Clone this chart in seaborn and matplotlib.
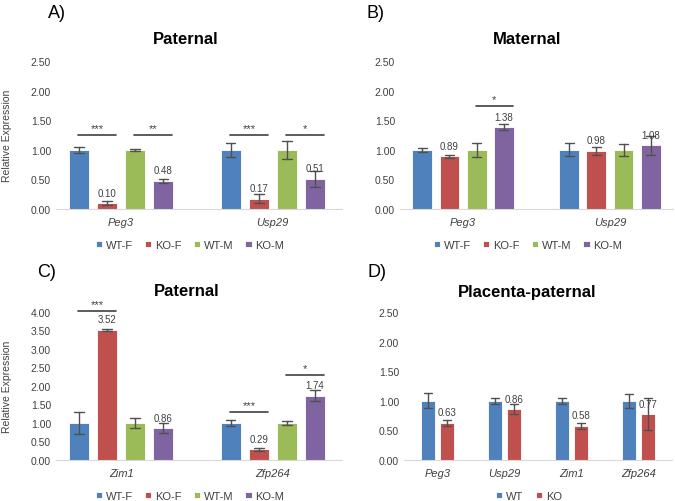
import matplotlib
matplotlib.use("Agg")
import numpy as np
import pandas as pd
import seaborn as sns
import matplotlib.pyplot as plt
from matplotlib.lines import Line2D
from matplotlib.ticker import FormatStrFormatter

# groups and colours (Excel 2010 default palette)
sex_groups = ["WT-F", "KO-F", "WT-M", "KO-M"]
sex_colors = ["#4F81BD", "#C0504D", "#9BBB59", "#8064A2"]
placenta_groups = ["WT", "KO"]
placenta_colors = ["#4F81BD", "#C0504D"]

# A) paternal
genes_a = ["Peg3", "Usp29"]
means_a = [[1.00, 0.10, 1.00, 0.48], [1.00, 0.17, 1.00, 0.51]]
errs_a = [[0.05, 0.035, 0.02, 0.035], [0.12, 0.075, 0.15, 0.14]]
sig_a = [(0, 0, 1, 1.25, "***"), (0, 2, 3, 1.25, "**"),
         (1, 0, 1, 1.25, "***"), (1, 2, 3, 1.25, "*")]

# B) maternal
genes_b = ["Peg3", "Usp29"]
means_b = [[1.00, 0.89, 1.00, 1.38], [1.00, 0.98, 1.00, 1.08]]
errs_b = [[0.03, 0.03, 0.12, 0.05], [0.11, 0.07, 0.10, 0.16]]
sig_b = [(0, 2, 3, 1.74, "*")]

# C) paternal
genes_c = ["Zim1", "Zfp264"]
means_c = [[1.00, 3.52, 1.00, 0.86], [1.00, 0.29, 1.00, 1.74]]
errs_c = [[0.30, 0.03, 0.14, 0.14], [0.07, 0.04, 0.06, 0.14]]
sig_c = [(0, 0, 1, 4.03, "***"), (1, 0, 1, 1.30, "***"), (1, 2, 3, 2.30, "*")]

# D) placenta-paternal
genes_d = ["Peg3", "Usp29", "Zim1", "Zfp264"]
means_d = [[1.00, 0.63], [1.00, 0.86], [1.00, 0.58], [1.00, 0.77]]
errs_d = [[0.13, 0.05], [0.05, 0.08], [0.05, 0.05], [0.12, 0.27]]

W, H = 675, 502
TXT = "#404040"

sns.set_style("white")
plt.rcParams["font.family"] = ["Liberation Sans", "DejaVu Sans"]


def long_table(genes, groups, means, errs):
    # three rows per bar so that mean = value and min/max = +/- error
    rows = []
    for g, m_row, e_row in zip(genes, means, errs):
        for grp, m, e in zip(groups, m_row, e_row):
            for v in (m - e, m, m + e):
                rows.append({"gene": g, "group": grp, "value": v})
    return pd.DataFrame(rows)


def px_axes(fig, x0, x1, ytop, ybot):
    return fig.add_axes([x0 / W, 1 - ybot / H, (x1 - x0) / W, (ybot - ytop) / H])


def draw_panel(ax, genes, groups, means, errs, colors, ymax, width,
               labelled, sigs, legend_xy):
    df = long_table(genes, groups, means, errs)
    sns.barplot(data=df, x="gene", y="value", hue="group", order=genes,
                hue_order=groups, palette=colors, estimator="mean",
                errorbar=lambda v: (v.min(), v.max()), width=width, gap=0.27,
                capsize=0.25, err_kws={"color": "#505050", "linewidth": 1},
                edgecolor="white", linewidth=0.6, saturation=1, ax=ax)
    ax.set_ylim(0, ymax)
    ax.set_yticks(np.arange(0, ymax + 0.01, 0.5))
    ax.yaxis.set_major_formatter(FormatStrFormatter("%.2f"))
    ax.set_xlabel("")
    ax.set_ylabel("")
    for side in ["top", "right", "left"]:
        ax.spines[side].set_visible(False)
    ax.spines["bottom"].set_color("#d9d9d9")
    ax.tick_params(axis="both", length=0, labelsize=7.5, colors=TXT)
    ax.tick_params(axis="x", pad=6)
    for t in ax.get_xticklabels():
        t.set_fontstyle("italic")
        t.set_fontsize(8)

    for i in labelled:
        ax.bar_label(ax.containers[i], fmt="%.2f", padding=4, fontsize=7, color=TXT)

    for gi, h0, h1, y, stars in sigs:
        p0 = ax.containers[h0][gi]
        p1 = ax.containers[h1][gi]
        x0 = p0.get_x() + p0.get_width() * 0.45
        x1 = p1.get_x() + p1.get_width() * 0.95
        ax.plot([x0, x1], [y, y], color=TXT, lw=1.2, clip_on=False)
        ax.text((x0 + x1) / 2, y + ymax * 0.012, stars, ha="center", va="bottom",
                fontsize=8, color=TXT, clip_on=False)

    handles, labels = ax.get_legend_handles_labels()
    ax.legend(handles, labels, loc="center", ncol=len(groups), frameon=False,
              bbox_to_anchor=(legend_xy[0] / W, 1 - legend_xy[1] / H),
              bbox_transform=ax.figure.transFigure, fontsize=8,
              handlelength=0.55, handleheight=0.55, handletextpad=0.35,
              columnspacing=1.1, labelcolor=TXT)


fig = plt.figure(figsize=(W / 100, H / 100), dpi=100)

ax_a = px_axes(fig, 56, 338, 62, 210)
draw_panel(ax_a, genes_a, sex_groups, means_a, errs_a, sex_colors, 2.5, 0.74,
           [1, 3], sig_a, (190, 246))
ax_b = px_axes(fig, 400, 673, 62, 210)
draw_panel(ax_b, genes_b, sex_groups, means_b, errs_b, sex_colors, 2.5, 0.74,
           [1, 3], sig_b, (528, 246))
ax_c = px_axes(fig, 56, 338, 313, 461)
draw_panel(ax_c, genes_c, sex_groups, means_c, errs_c, sex_colors, 4.0, 0.74,
           [1, 3], sig_c, (190, 497))
ax_d = px_axes(fig, 404, 672, 313, 461)
draw_panel(ax_d, genes_d, placenta_groups, means_d, errs_d, placenta_colors, 2.5,
           0.57, [1], [], (529, 497))

for ax in (ax_a, ax_c):
    ax.set_ylabel("Relative Expression", fontsize=7.5, color=TXT)
    ax.yaxis.set_label_coords(-0.155, 0.5)

# left panels' baselines run on a few pixels past their axes
for yb in (210, 461):
    fig.add_artist(Line2D([338 / W, 342 / W], [1 - yb / H, 1 - yb / H],
                          color="#d9d9d9", lw=0.8, transform=fig.transFigure))

# titles and panel letters
titles = [("Paternal", 186, 40), ("Maternal", 527, 40),
          ("Paternal", 187, 292), ("Placenta-paternal", 527, 292)]
for txt, x, y in titles:
    fig.text(x / W, 1 - y / H, txt, ha="center", va="center",
             fontsize=12, fontweight="bold", color="black")
letters = [("A)", 57, 13), ("B)", 375, 13), ("C)", 47, 273), ("D)", 377, 273)]
for txt, x, y in letters:
    fig.text(x / W, 1 - y / H, txt, ha="center", va="center", fontsize=13,
             color="black")

fig.savefig("out.png", dpi=100)
